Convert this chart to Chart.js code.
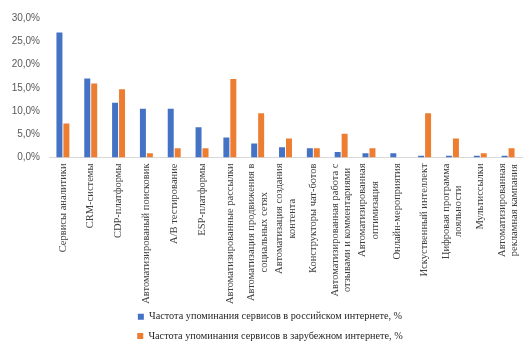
<!DOCTYPE html>
<html>
<head>
<meta charset="utf-8">
<script src="https://cdn.jsdelivr.net/npm/chart.js@4"></script>
<style>
  html, body { margin: 0; padding: 0; background: #fff; }
  #wrap { width: 532px; height: 356px; }
</style>
</head>
<body>
<div id="wrap"><canvas id="grafico"></canvas></div>
<script>
// categorias (cada linea de la etiqueta por separado)
const categorias = [
  ["Сервисы аналитики"],
  ["CRM-системы"],
  ["CDP-платформы"],
  ["Автоматизированый поисковик"],
  ["A/B тестирование"],
  ["ESP-платформы"],
  ["Автоматизированные рассылки"],
  ["Автоматизация продвижения в", "социальных сетях"],
  ["Автоматизация создания", "контента"],
  ["Конструкторы чат-ботов"],
  ["Автоматизированная работа с", "отзывами и комментариями"],
  ["Автоматизированная", "оптимизация"],
  ["Онлайн-мероприятия"],
  ["Искуственный интеллект"],
  ["Цифровая программа", "лояльности"],
  ["Мультиссылки"],
  ["Автоматизированная", "рекламная кампания"]
];
const serieRusa = [26.9, 17.0, 11.8, 10.5, 10.5, 6.5, 4.3, 3.0, 2.2, 2.0, 1.2, 0.9, 0.9, 0.35, 0.35, 0.35, 0.35];
const serieExtranjera = [7.3, 15.9, 14.7, 0.9, 2.0, 2.0, 16.9, 9.5, 4.1, 2.0, 5.1, 2.0, 0, 9.5, 4.1, 0.9, 2.0];
const nombresSeries = [
  "Частота упоминания сервисов в российском интернете, %",
  "Частота упоминания сервисов в зарубежном интернете, %"
];
const ticksY = [0, 5, 10, 15, 20, 25, 30];

const FUENTE_SERIF = "'Liberation Serif', 'Times New Roman', serif";

// Dibujo las etiquetas del eje X centradas linea por linea (como Excel)
const etiquetasX = {
  id: 'etiquetasX',
  afterLayout(chart) {
    // corro la leyenda un poco a la derecha como en el original
    chart.legend.left += 9;
    chart.legend.right += 9;
  },
  afterDraw(chart) {
    const escala = chart.scales.x;
    const ctx = chart.ctx;
    ctx.save();
    ctx.font = "10.5px " + FUENTE_SERIF;
    ctx.fillStyle = "#404040";
    ctx.textBaseline = "middle";
    ctx.textAlign = "center";
    const altoLinea = 12.5;
    for (let i = 0; i < categorias.length; i++) {
      const lineas = categorias[i];
      const x = escala.getPixelForTick(i);
      const y = escala.top + 6;
      let ancho = 0;
      for (const l of lineas) ancho = Math.max(ancho, ctx.measureText(l).width);
      ctx.save();
      ctx.translate(x, y);
      ctx.rotate(-Math.PI / 2);
      for (let j = 0; j < lineas.length; j++) {
        const desp = (j - (lineas.length - 1) / 2) * altoLinea;
        ctx.fillText(lineas[j], -ancho / 2, desp);
      }
      ctx.restore();
    }
    ctx.restore();
  }
};

const canvas = document.getElementById("grafico");
new Chart(canvas, {
  type: 'bar',
  data: {
    labels: categorias,
    datasets: [
      { label: nombresSeries[0], data: serieRusa, backgroundColor: "#4472C4",
        categoryPercentage: 0.5, barPercentage: 0.86 },
      { label: nombresSeries[1], data: serieExtranjera, backgroundColor: "#ED7D31",
        categoryPercentage: 0.5, barPercentage: 0.86 }
    ]
  },
  options: {
    responsive: true,
    maintainAspectRatio: false,
    animation: false,
    layout: { padding: { top: 18, right: 10, left: 0, bottom: 5 } },
    plugins: {
      tooltip: { enabled: false },
      legend: {
        position: 'bottom',
        labels: {
          boxWidth: 6, boxHeight: 6, padding: 9,
          color: "#262626",
          font: { family: FUENTE_SERIF, size: 10.25 }
        }
      }
    },
    scales: {
      x: {
        grid: { display: false, drawTicks: false },
        border: { display: true, color: "#d9d9d9" },
        ticks: { display: false },
        afterFit(s) { s.height = 145; }
      },
      y: {
        min: 0, max: 30,
        afterBuildTicks(s) { s.ticks = ticksY.map(v => ({ value: v })); },
        afterFit(s) { s.width = 49; },
        grid: { display: false, drawTicks: false },
        border: { display: false },
        ticks: {
          padding: 9,
          color: "#595959",
          font: { family: "'Liberation Sans', Arial, sans-serif", size: 10 },
          callback: v => v.toFixed(1).replace(".", ",") + "%"
        }
      }
    }
  },
  plugins: [etiquetasX]
});
</script>
</body>
</html>
